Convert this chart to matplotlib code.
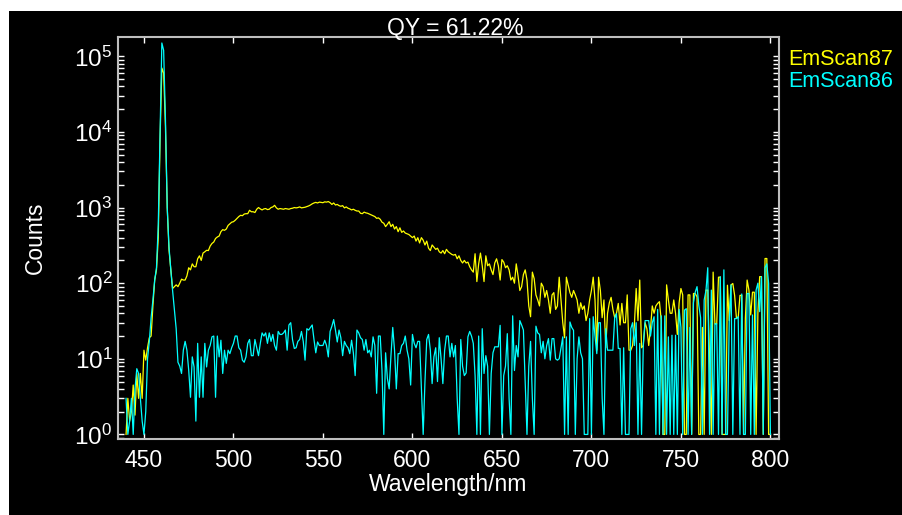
import numpy as np
import matplotlib
matplotlib.use("Agg")
import matplotlib.pyplot as plt
from matplotlib.patches import Rectangle
from matplotlib.ticker import LogLocator, FixedLocator

plt.rcParams['font.family'] = ['Liberation Sans', 'DejaVu Sans']
plt.rcParams['mathtext.fontset'] = 'custom'
plt.rcParams['mathtext.rm'] = 'Liberation Sans'
plt.rcParams['mathtext.it'] = 'Liberation Sans'
plt.rcParams['mathtext.bf'] = 'Liberation Sans'

wl_start, wl_stop = 440, 800
wavelength = np.arange(wl_start, wl_stop + 1)

em87 = [
    1, 3, 1.5, 2, 4.5, 1.8, 6.4, 3, 6.4, 3,
    13, 9.6, 14, 19, 20, 50, 110, 150, 400, 8000,
    70000, 60000, 12000, 1000, 274, 150, 85, 90, 95, 90,
    100, 113, 110, 110, 125, 160, 150, 180, 165, 165,
    210, 230, 200, 250, 260, 272, 270, 310, 335, 350,
    390, 408, 420, 480, 510, 500, 520, 580, 610, 640,
    650, 680, 720, 760, 790, 780, 820, 830, 830, 920,
    880, 880, 860, 950, 1000, 960, 930, 960, 970, 940,
    950, 1000, 1020, 1070, 990, 950, 970, 960, 950, 970,
    960, 950, 970, 980, 1000, 990, 1000, 1020, 990, 1000,
    1010, 1030, 1050, 1080, 1120, 1150, 1170, 1150, 1180, 1170,
    1160, 1190, 1180, 1200, 1160, 1100, 1150, 1080, 1100, 1060,
    1040, 1060, 990, 1020, 980, 960, 930, 950, 920, 900,
    900, 840, 830, 870, 850, 840, 820, 800, 780, 760,
    720, 730, 700, 640, 620, 560, 600, 650, 560, 600,
    520, 560, 480, 540, 470, 490, 460, 450, 440, 420,
    400, 420, 360, 400, 340, 400, 370, 320, 360, 290,
    270, 320, 300, 280, 290, 260, 250, 270, 245, 280,
    260, 250, 240, 235, 240, 210, 230, 200, 185, 200,
    185, 190, 165, 150, 140, 245, 105, 180, 250, 170,
    105, 230, 170, 180, 150, 130, 185, 210, 170, 110,
    205, 190, 160, 170, 150, 110, 120, 100, 180, 125,
    80, 90, 130, 150, 110, 50, 36, 140, 115, 70,
    60, 50, 100, 90, 65, 80, 60, 40, 70, 75,
    45, 50, 120, 60, 30, 19, 120, 95, 75, 65,
    80, 70, 60, 40, 55, 45, 50, 32, 40, 60,
    80, 120, 60, 13, 120, 80, 35, 60, 14, 40,
    55, 65, 45, 35, 40, 54, 28, 54, 30, 30,
    70, 13, 13, 15, 28, 85, 32, 110, 14, 15,
    30, 25, 15, 25, 50, 40, 50, 54, 57, 32,
    1, 1, 95, 60, 40, 40, 60, 40, 21, 55,
    85, 70, 1, 1, 70, 70, 1, 73, 73, 66,
    1, 1, 26, 1, 81, 81, 10, 1, 140, 29,
    29, 120, 120, 1, 1, 1, 94, 32, 95, 99,
    69, 35, 35, 69, 69, 1, 34, 110, 81, 38,
    76, 76, 1, 40, 122, 122, 1, 212, 212, 1,
    1,
]

em86 = [
    3, 1, 1.5, 3, 1, 4, 7.4, 6.4, 3, 1.5,
    1, 2, 10, 17, 35, 60, 110, 160, 600, 10000,
    150000, 120000, 15000, 1000, 300, 150, 80, 45, 25, 9,
    8, 6.4, 13, 17, 13, 7.1, 3.1, 10.6, 7.8, 1.5,
    16, 3.1, 10.6, 3.1, 16, 7.8, 13, 15, 19.5, 20,
    3.1, 20, 10.6, 17.6, 6.4, 13, 8.7, 13, 11.7, 14,
    16, 20, 20, 14, 13, 9.6, 9, 10.6, 16, 18,
    11, 11, 18, 14, 11, 16, 22, 20, 22, 16,
    22, 17, 21, 15, 13, 23, 21, 21, 22, 24,
    13, 28, 30, 18, 13.7, 14, 17, 18, 23, 17,
    9.6, 25, 24, 26, 28, 18, 12, 16.7, 15, 15,
    15, 17.6, 15, 10.6, 23, 27, 33, 24, 16.7, 24,
    19, 11, 17, 15, 14, 11.7, 17.6, 12, 6, 24,
    22, 19, 18, 13, 18, 12, 13, 10.6, 19.5, 15,
    3.5, 20, 20, 7, 1, 12, 5.5, 4, 11, 26,
    13, 4, 11.7, 11.7, 15, 16, 20, 13, 10, 4.5,
    21, 16, 14, 17, 17, 4, 1, 5, 18, 21,
    13, 4.7, 10.6, 14, 5, 19, 10, 4.7, 13, 20,
    20, 10.6, 16, 10.6, 15, 3, 1, 18, 8, 6,
    6.5, 19.5, 23, 20, 16, 6, 1, 20, 1, 25,
    6.4, 11, 8, 1, 6.4, 12, 14.4, 14.4, 14.4, 27.7,
    1, 6, 8, 21.5, 3, 1, 37, 7, 15, 10.6,
    32, 28, 24, 5, 1, 8, 17, 3, 1, 27,
    22, 21, 12, 17, 10, 15, 18.5, 9.6, 18.5, 18.5,
    10, 9.6, 10, 14, 19.5, 1, 19.5, 1, 30.7, 26,
    23.8, 1, 10, 19.5, 12, 10, 1, 1, 1, 34,
    1, 36, 20, 11.7, 30, 30, 3, 1, 25, 13,
    13, 13, 13, 35, 39.5, 13.7, 13.7, 1, 14, 1,
    1, 1, 25, 30, 15, 30, 1, 16, 1, 16,
    32, 32, 32, 20, 30, 36, 1, 45, 1, 37,
    1, 37, 1, 19.5, 1, 20.5, 1, 20.5, 1, 45,
    26, 1, 44, 46, 1, 26, 1, 55, 76, 90,
    51, 35, 1, 60, 80, 160, 1, 81, 1, 29,
    29, 1, 122, 1, 150, 1, 1, 32, 95, 1,
    34, 34, 36, 1, 72, 1, 1, 73, 73, 1,
    38, 1, 81, 100, 42, 122, 1, 160, 180, 99,
    1,
]

series_labels = ['EmScan87', 'EmScan86']
series_colors = ['#ffff00', '#00ffff']
x_ticks = [450, 500, 550, 600, 650, 700, 750, 800]
title_text = 'QY = 61.22%'

FS = 16.5
W, H = 903, 515
fig = plt.figure(figsize=(W / 100, H / 100), dpi=100, facecolor='white')
fig.patches.append(Rectangle((9 / W, 0), 1, (H - 11) / H, transform=fig.transFigure,
                             facecolor='black', edgecolor='none', zorder=-10))

ax = fig.add_axes([118 / W, (H - 439) / H, (779 - 118) / W, (439 - 37) / H])
ax.set_facecolor('black')

ax.plot(wavelength, em87, color=series_colors[0], lw=0.9, label=series_labels[0])
ax.plot(wavelength, em86, color=series_colors[1], lw=0.9, label=series_labels[1])

ax.set_yscale('log')
ax.set_xlim(435.5, 804.8)
ax.set_ylim(0.87, 1.8e5)
ax.xaxis.set_major_locator(FixedLocator(x_ticks))
ax.yaxis.set_major_locator(LogLocator(base=10, numticks=10))
ax.yaxis.set_minor_locator(LogLocator(base=10, subs=np.arange(2, 10), numticks=10))

for sp in ax.spines.values():
    sp.set_color('#bebebe')
    sp.set_linewidth(1.5)

ax.tick_params(which='both', direction='in', colors='white', top=True, right=True,
               labelsize=FS)
ax.tick_params(axis='y', which='major', labelsize=17.5)
ax.tick_params(which='major', length=4, width=1)
ax.tick_params(which='minor', length=4, width=1)
ax.tick_params(axis='x', pad=7)
ax.tick_params(axis='y', pad=4)

ax.set_xlabel('Wavelength/nm', color='white', fontsize=FS, labelpad=1)
ax.set_ylabel('Counts', color='white', fontsize=FS, labelpad=20)

fig.text(455 / W, (H - 35) / H, title_text, color='white', fontsize=FS,
         ha='center', va='baseline')

legend_y = [65, 87]
for lab, col, yb in zip(series_labels, series_colors, legend_y):
    fig.text(788 / W, (H - yb) / H, lab, color=col, fontsize=15.5,
             ha='left', va='baseline')

fig.savefig('out.png', dpi=100, facecolor=fig.get_facecolor())
